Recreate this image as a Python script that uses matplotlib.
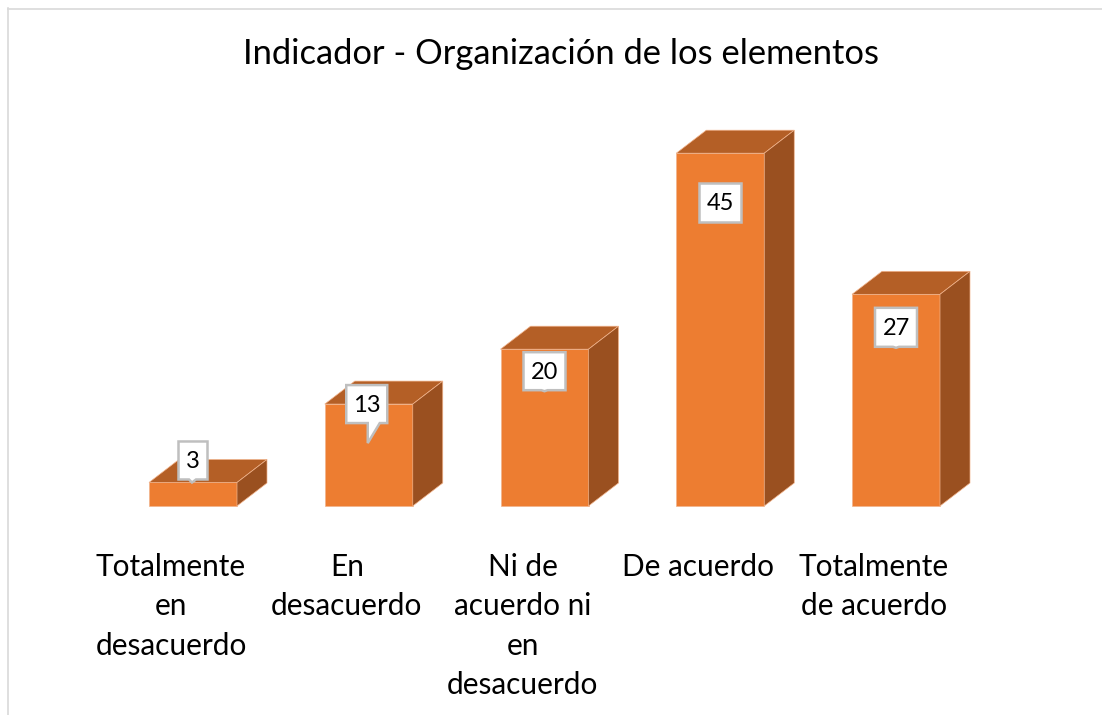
import matplotlib.pyplot as plt
from matplotlib.lines import Line2D
from matplotlib.patches import Polygon

plt.rcParams['font.family'] = ['Lato', 'DejaVu Sans']

categories = [
    'Totalmente\nen\ndesacuerdo',
    'En\ndesacuerdo',
    'Ni de\nacuerdo ni\nen\ndesacuerdo',
    'De acuerdo',
    'Totalmente\nde acuerdo',
]
values = [3, 13, 20, 45, 27]
title = 'Indicador - Organización de los elementos'

FRONT = '#ED7D31'
TOP = '#B45F26'
SIDE = '#9A5020'
EDGE = '#F2B48C'
BOX_EDGE = '#BFBFBF'
FRAME = '#D9D9D9'

W, H = 1102, 715
BASE_PX = 506
PX_PER_UNIT = 7.84
PX_PER_CAT = 175.75
FIRST_PX = 193

# callout box relative to the bar's top centre, in pixels: dx, dy to box centre, w, h, tail
callouts = [
    (0, -22, 29, 38, (-4, 3, -1, 3)),
    (-2, 0, 41, 38, (1, 13, 1, 20)),
    (0, 22, 42, 38, (-3, 3, 0, 1)),
    (0, 49, 42, 39, (-3, 3, 0, 0)),
    (0, 33, 42, 39, (-3, 3, 0, 1)),
]

fig = plt.figure(figsize=(W / 100, H / 100), dpi=100)
ax = fig.add_axes([0, 1 - BASE_PX / H, 1, BASE_PX / H])
ax.set_xlim(-FIRST_PX / PX_PER_CAT, (W - FIRST_PX) / PX_PER_CAT)
ax.set_ylim(0, BASE_PX / PX_PER_UNIT)
ax.patch.set_visible(False)
for spine in ax.spines.values():
    spine.set_visible(False)

dx = 1 / PX_PER_CAT
dy = 1 / PX_PER_UNIT
half = 44 * dx
depth_x = 30 * dx
depth_y = 23 * dy


def add_poly(points, color, z, edge=EDGE, lw=0.5):
    ax.add_patch(Polygon(points, closed=True, facecolor=color, edgecolor=edge,
                         linewidth=lw, zorder=z, clip_on=False))


for i, v in enumerate(values):
    left, right = i - half, i + half
    add_poly([(left, 0), (right, 0), (right, v), (left, v)], FRONT, 2)
    add_poly([(left, v), (right, v), (right + depth_x, v + depth_y), (left + depth_x, v + depth_y)], TOP, 2)
    add_poly([(right, 0), (right + depth_x, depth_y), (right + depth_x, v + depth_y), (right, v)], SIDE, 2)

    off_x, off_y, w, h, tail = callouts[i]
    cx = i + off_x * dx
    cy = v - off_y * dy
    x0, x1 = cx - w / 2 * dx, cx + w / 2 * dx
    y0, y1 = cy - h / 2 * dy, cy + h / 2 * dy
    add_poly([(x0, y1), (x1, y1), (x1, y0),
              (cx + tail[1] * dx, y0),
              (cx + tail[2] * dx, y0 - tail[3] * dy),
              (cx + tail[0] * dx, y0),
              (x0, y0)], 'white', 3, edge=BOX_EDGE, lw=1.8)
    ax.text(cx, cy - 1.5 * dy, str(v), ha='center', va='center', fontsize=17, color='black', zorder=4)

ax.set_yticks([])
ax.set_xticks([i - 22 * dx for i in range(len(categories))])
ax.set_xticklabels(categories, fontsize=21.4, color='black', linespacing=1.5, ha='center', va='top')
ax.tick_params(axis='x', length=0, pad=33.5)

fig.text(561 / W, 1 - 54 / H, title, ha='center', va='center', fontsize=24.8, color='black')

fig.add_artist(Line2D([8 / W, 1], [1 - 8.5 / H, 1 - 8.5 / H], color=FRAME, linewidth=1.2))
fig.add_artist(Line2D([8 / W, 8 / W], [1 - 8 / H, 0], color=FRAME, linewidth=1.2))

fig.savefig('out.png', dpi=100, facecolor='white')
